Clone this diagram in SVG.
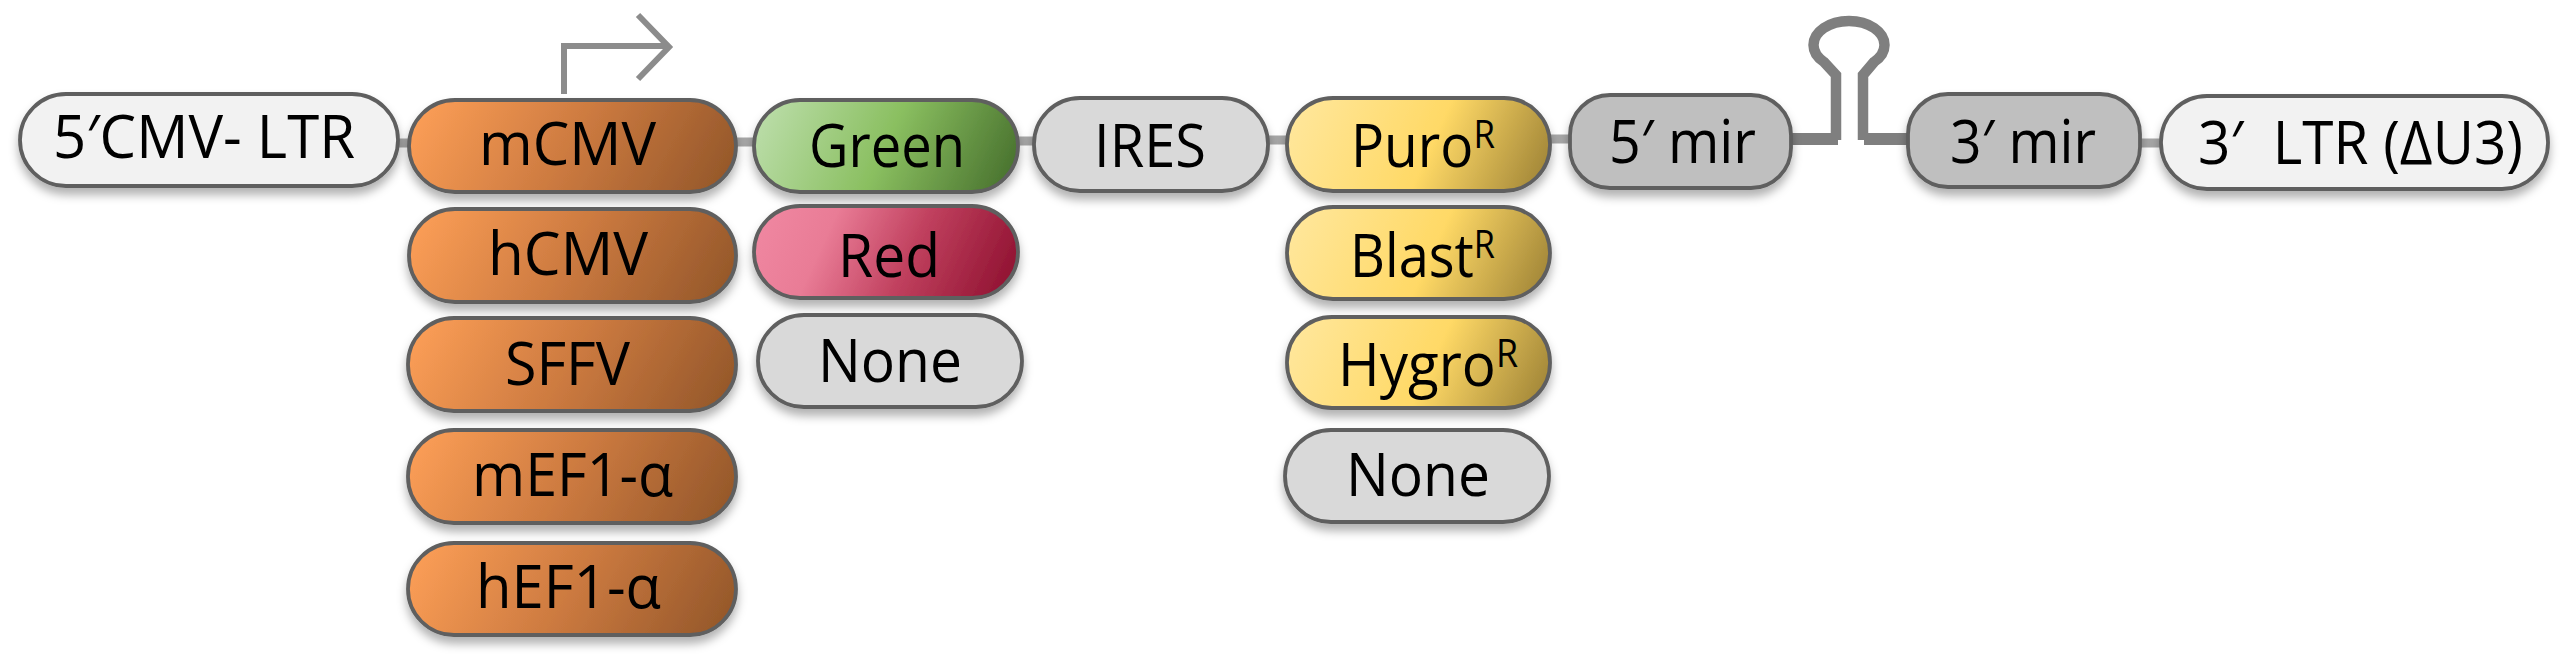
<svg xmlns="http://www.w3.org/2000/svg" width="2560" height="658" viewBox="0 0 2560 658">
<style>
.p{stroke:#5f5f5f;stroke-width:3.8;filter:url(#sh)}
.t{font-family:"Open Sans","Noto Sans",sans-serif;font-size:60px;fill:#000;text-anchor:start}
.s{font-size:38px}
.c{stroke:#a6a6a6;stroke-width:9;fill:none}
.w{fill:#f2f2f2}.g{fill:#d9d9d9}.d{fill:#bfbfbf}
.o{fill:url(#or)}.y{fill:url(#ye)}.gr{fill:url(#gn)}.r{fill:url(#rd)}
</style>
<defs>
<filter id="sh" x="-10%" y="-20%" width="120%" height="150%"><feDropShadow dx="0" dy="7" stdDeviation="5" flood-color="#000" flood-opacity="0.3"/></filter>
<linearGradient id="or" x1="0" y1="0.42" x2="1" y2="0.58"><stop offset="0" stop-color="#f99c55"/><stop offset="0.5" stop-color="#cc7a40"/><stop offset="1" stop-color="#97592b"/></linearGradient>
<linearGradient id="ye" x1="0" y1="0.42" x2="1" y2="0.58"><stop offset="0" stop-color="#ffe699"/><stop offset="0.55" stop-color="#ffd966"/><stop offset="1" stop-color="#a68a3a"/></linearGradient>
<linearGradient id="gn" x1="0" y1="0.42" x2="1" y2="0.58"><stop offset="0" stop-color="#b9dca6"/><stop offset="0.5" stop-color="#8abf60"/><stop offset="1" stop-color="#4b7530"/></linearGradient>
<linearGradient id="rd" x1="0" y1="0.42" x2="1" y2="0.58"><stop offset="0" stop-color="#ef86a0"/><stop offset="0.25" stop-color="#e97c96"/><stop offset="0.6" stop-color="#c0405e"/><stop offset="1" stop-color="#921433"/></linearGradient>
</defs>
<g id="connectors">
<path class="c" d="M396 143H412M734 142H757M1016 141H1037M1266 140H1290M1548 139H1571M2138 143H2164"/>
<path d="M1791 139H1838" fill="none" stroke="#7f7f7f" stroke-width="12"/>
<path d="M1908 139H1864" fill="none" stroke="#7f7f7f" stroke-width="12"/>
<path d="M1836 140V75L1824 62A35.5 24 0 1 1 1874 62L1863 75V140" fill="none" stroke="#7f7f7f" stroke-width="10.5"/>
<path d="M564 94V46H668M638 15L669 47L638 79" fill="none" stroke="#8c8c8c" stroke-width="6"/>
</g>
<g id="n5ltr"><rect class="p w" x="20" y="94" width="378" height="92" rx="46"/><text class="t" x="53" y="158" textLength="302" lengthAdjust="spacingAndGlyphs">5′CMV- LTR</text></g>
<g id="mCMV"><rect class="p o" x="409" y="100" width="327" height="92" rx="46"/><text class="t" x="479" y="165" textLength="177" lengthAdjust="spacingAndGlyphs">mCMV</text></g>
<g id="hCMV"><rect class="p o" x="409" y="209" width="327" height="93" rx="46"/><text class="t" x="488" y="275" textLength="160" lengthAdjust="spacingAndGlyphs">hCMV</text></g>
<g id="SFFV"><rect class="p o" x="408" y="318" width="328" height="93" rx="46"/><text class="t" x="505" y="385" textLength="125" lengthAdjust="spacingAndGlyphs">SFFV</text></g>
<g id="mEF1"><rect class="p o" x="408" y="430" width="328" height="93" rx="46"/><text class="t" x="472" y="496" textLength="201" lengthAdjust="spacingAndGlyphs">mEF1-α</text></g>
<g id="hEF1"><rect class="p o" x="408" y="543" width="328" height="92" rx="46"/><text class="t" x="476" y="608" textLength="185" lengthAdjust="spacingAndGlyphs">hEF1-α</text></g>
<g id="Green"><rect class="p gr" x="754" y="100" width="264" height="92" rx="46"/><text class="t" x="809" y="167" textLength="156" lengthAdjust="spacingAndGlyphs">Green</text></g>
<g id="Red"><rect class="p r" x="754" y="206" width="264" height="92" rx="46"/><text class="t" x="838" y="277" textLength="102" lengthAdjust="spacingAndGlyphs">Red</text></g>
<g id="None1"><rect class="p g" x="758" y="315" width="264" height="92" rx="46"/><text class="t" x="818" y="382" textLength="144" lengthAdjust="spacingAndGlyphs">None</text></g>
<g id="IRES"><rect class="p g" x="1034" y="98" width="234" height="93" rx="46"/><text class="t" x="1094" y="167" textLength="112" lengthAdjust="spacingAndGlyphs">IRES</text></g>
<g id="Puro"><rect class="p y" x="1287" y="98" width="263" height="93" rx="46"/><text class="t" x="1351" y="167" textLength="144" lengthAdjust="spacingAndGlyphs">Puro<tspan class="s" dy="-19">R</tspan></text></g>
<g id="Blast"><rect class="p y" x="1287" y="207" width="263" height="92" rx="46"/><text class="t" x="1350" y="277" textLength="145" lengthAdjust="spacingAndGlyphs">Blast<tspan class="s" dy="-19">R</tspan></text></g>
<g id="Hygro"><rect class="p y" x="1287" y="317" width="263" height="91" rx="45"/><text class="t" x="1338" y="386" textLength="180" lengthAdjust="spacingAndGlyphs">Hygro<tspan class="s" dy="-19">R</tspan></text></g>
<g id="None2"><rect class="p g" x="1285" y="430" width="264" height="92" rx="46"/><text class="t" x="1346" y="496" textLength="144" lengthAdjust="spacingAndGlyphs">None</text></g>
<g id="mir5"><rect class="p d" x="1570" y="95" width="221" height="93" rx="40"/><text class="t" x="1609" y="163" textLength="147" lengthAdjust="spacingAndGlyphs">5′ mir</text></g>
<g id="mir3"><rect class="p d" x="1908" y="94" width="232" height="93" rx="40"/><text class="t" x="1950" y="163" textLength="146" lengthAdjust="spacingAndGlyphs">3′ mir</text></g>
<g id="ltr3"><rect class="p w" x="2161" y="96" width="387" height="93" rx="46"/><text class="t" x="2198" y="164" textLength="325" lengthAdjust="spacingAndGlyphs" xml:space="preserve">3′  LTR (ΔU3)</text></g>
</svg>
